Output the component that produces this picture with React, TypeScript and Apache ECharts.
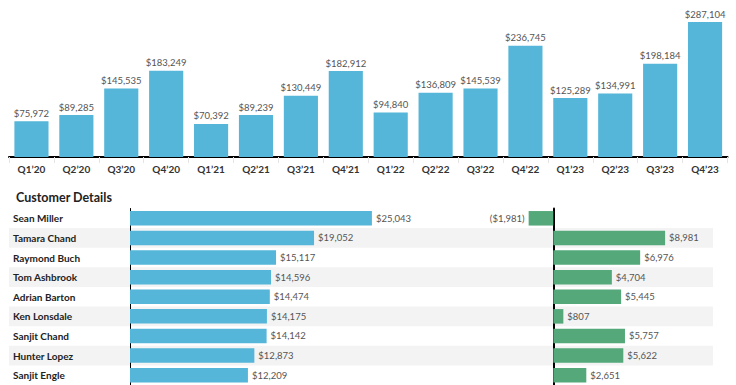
import React, { useEffect, useRef } from "react";
import * as echarts from "echarts";

const quarters = ["Q1’20", "Q2’20", "Q3’20", "Q4’20", "Q1’21", "Q2’21", "Q3’21", "Q4’21", "Q1’22", "Q2’22", "Q3’22", "Q4’22", "Q1’23", "Q2’23", "Q3’23", "Q4’23"];
const quarterSales = [75972, 89285, 145535, 183249, 70392, 89239, 130449, 182912, 94840, 136809, 145539, 236745, 125289, 134991, 198184, 287104];

const customers = ["Sean Miller", "Tamara Chand", "Raymond Buch", "Tom Ashbrook", "Adrian Barton", "Ken Lonsdale", "Sanjit Chand", "Hunter Lopez", "Sanjit Engle"];
const customerSales = [25043, 19052, 15117, 14596, 14474, 14175, 14142, 12873, 12209];
const customerProfit = [-1981, 8981, 6976, 4704, 5445, 807, 5757, 5622, 2651];

const BLUE = "#55b6d9";
const GREEN = "#55a87a";
const FONT = "Lato";

const money = (v: number) => {
  const s = "$" + Math.abs(v).toLocaleString("en-US");
  return v < 0 ? "(" + s + ")" : s;
};

export default function App() {
  const ref = useRef<HTMLDivElement>(null);
  useEffect(() => {
    document.body.style.margin = "0";
    const chart = echarts.init(ref.current!, null, { renderer: "svg" });
    const rowTop = 208.5;
    const rowH = 19.8 * customers.length;
    const valueLabel = { fontFamily: FONT, fontSize: 9.5, color: "#555" };
    chart.setOption({
      animation: false,
      backgroundColor: "#fff",
      title: {
        text: "Customer Details",
        left: 11,
        top: 186,
        textStyle: { fontFamily: FONT, fontSize: 12.5, fontWeight: "bold", color: "#222" },
      },
      grid: [
        { left: 9, right: 8.5, top: 16, height: 141 },
        { left: 9, right: 23, top: rowTop, height: rowH },
        { left: 130, width: 289.8, top: rowTop, height: rowH },
        { left: 503.5, width: 174.3, top: rowTop, height: rowH },
      ],
      xAxis: [
        {
          gridIndex: 0,
          type: "category",
          data: quarters,
          axisLine: { lineStyle: { color: "#000", width: 2 } },
          axisTick: { show: true, length: 6, lineStyle: { color: "#e4e4e4" } },
          axisLabel: { fontFamily: FONT, fontSize: 10, fontWeight: "bold", color: "#333", margin: 7 },
        },
        { gridIndex: 1, type: "value", min: 0, max: 1, show: false },
        { gridIndex: 2, type: "value", min: 0, max: 30000, show: false },
        { gridIndex: 3, type: "value", min: -4000, max: 10000, show: false },
      ],
      yAxis: [
        { gridIndex: 0, type: "value", min: 0, max: 300000, show: false },
        {
          gridIndex: 1,
          type: "category",
          inverse: true,
          data: customers,
          axisLine: { show: false },
          axisTick: { show: false },
          axisLabel: { show: false },
          splitArea: { show: true, areaStyle: { color: ["rgba(255,255,255,0)", "#f3f3f3"] } },
        },
        {
          gridIndex: 2,
          type: "category",
          inverse: true,
          data: customers,
          axisLine: { show: true, lineStyle: { color: "#000", width: 1 } },
          axisTick: { show: false },
          axisLabel: { align: "left", margin: 117, fontFamily: FONT, fontSize: 10, fontWeight: "bold", color: "#222" },
        },
        {
          gridIndex: 3,
          type: "category",
          inverse: true,
          data: customers,
          axisLine: { show: true, onZero: true, lineStyle: { color: "#000", width: 2 } },
          axisTick: { show: false },
          axisLabel: { show: false },
        },
      ],
      series: [
        {
          type: "bar",
          xAxisIndex: 0,
          yAxisIndex: 0,
          data: quarterSales,
          barCategoryGap: "24%",
          itemStyle: { color: BLUE },
          label: { show: true, position: "top", distance: 3, formatter: (p: any) => money(p.value), ...valueLabel },
        },
        {
          type: "bar",
          xAxisIndex: 2,
          yAxisIndex: 2,
          data: customerSales,
          barCategoryGap: "26%",
          itemStyle: { color: BLUE },
          label: { show: true, position: "right", distance: 4, formatter: (p: any) => money(p.value), ...valueLabel },
        },
        {
          type: "bar",
          xAxisIndex: 3,
          yAxisIndex: 3,
          data: customerProfit.map((v) => ({
            value: v,
            label: { position: v < 0 ? "left" : "right" },
          })),
          barCategoryGap: "26%",
          itemStyle: { color: GREEN },
          label: { show: true, distance: 4, formatter: (p: any) => money(p.value), ...valueLabel },
        },
      ],
    });
    return () => chart.dispose();
  }, []);
  return <div ref={ref} style={{ width: 736, height: 385 }} />;
}
